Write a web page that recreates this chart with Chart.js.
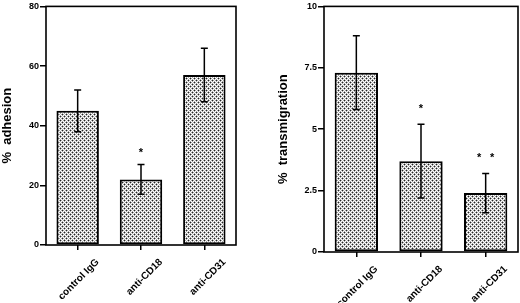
<!DOCTYPE html>
<html>
<head>
<meta charset="utf-8">
<script src="https://cdn.jsdelivr.net/npm/chart.js@4"></script>
<style>
  html, body { margin: 0; padding: 0; background: #fff; }
  .panel { position: absolute; top: 0; width: 260px; height: 303px; }
</style>
</head>
<body>
<div class="panel" style="left:0"><canvas id="adhesionChart" width="260" height="303"></canvas></div>
<div class="panel" style="left:260px"><canvas id="transChart" width="260" height="303"></canvas></div>
<script>
const categories = ['control IgG', 'anti-CD18', 'anti-CD31'];

// left panel: % adhesion (mean, SD)
const adhesionMeans = [45, 22, 57];
const adhesionErrors = [7, 5, 9];
const adhesionStars = [0, 1, 0];
const adhesionTicks = [0, 20, 40, 60, 80];

// right panel: % transmigration (mean, SD)
const transMeans = [7.3, 3.7, 2.4];
const transErrors = [1.5, 1.5, 0.8];
const transStars = [0, 1, 2];
const transTicks = [0, 2.5, 5, 7.5, 10];

const FONT = 'Arial, "Liberation Sans", sans-serif';
Chart.defaults.font.family = FONT;
Chart.defaults.color = '#000';

// stippled fill like the printed figure
function dotPattern() {
    const c = document.createElement('canvas');
    c.width = 4;
    c.height = 4;
    const g = c.getContext('2d');
    g.fillStyle = '#fff';
    g.fillRect(0, 0, 4, 4);
    g.fillStyle = '#aaa';
    [[1, 0], [3, 0], [0, 1], [0, 3], [1, 2], [3, 2], [2, 1], [2, 3]].forEach(p => g.fillRect(p[0], p[1], 1, 1));
    g.fillStyle = '#222';
    g.fillRect(0, 0, 1, 1);
    g.fillRect(2, 2, 1, 1);
    return g.createPattern(c, 'repeat');
}

// error bars, stars, slanted category labels and the box frame
const extras = {
    id: 'extras',
    afterDatasetsDraw(chart, args, opts) {
        const ctx = chart.ctx;
        const y = chart.scales.y;
        const x = chart.scales.x;
        const meta = chart.getDatasetMeta(0);
        ctx.save();
        ctx.strokeStyle = '#000';
        ctx.fillStyle = '#000';
        ctx.lineWidth = 1.5;
        meta.data.forEach((bar, i) => {
            const v = opts.means[i], e = opts.errors[i];
            const top = y.getPixelForValue(v + e);
            const bot = y.getPixelForValue(v - e);
            ctx.beginPath();
            ctx.moveTo(bar.x, top);
            ctx.lineTo(bar.x, bot);
            ctx.moveTo(bar.x - 3.5, top);
            ctx.lineTo(bar.x + 3.5, top);
            ctx.moveTo(bar.x - 3.5, bot);
            ctx.lineTo(bar.x + 3.5, bot);
            ctx.stroke();

            const n = opts.stars[i];
            ctx.font = 'bold 11px ' + FONT;
            ctx.textAlign = 'center';
            ctx.textBaseline = 'middle';
            for (let k = 0; k < n; k++) {
                const sx = bar.x + (k - (n - 1) / 2) * 13;
                ctx.fillText('*', sx, top - opts.starGap);
            }
        });

        // category labels at 45 degrees, centred under the ticks
        ctx.font = 'bold 10px ' + FONT;
        ctx.textAlign = 'right';
        ctx.textBaseline = 'middle';
        categories.forEach((lab, i) => {
            const px = x.getPixelForTick(i);
            ctx.save();
            ctx.translate(px + 20, x.top + 15.5);
            ctx.rotate(-Math.PI / 4);
            ctx.fillText(lab, 0, 0);
            ctx.restore();
        });

        const a = chart.chartArea;
        ctx.lineWidth = 1.6;
        ctx.strokeRect(a.left, a.top, a.right - a.left, a.bottom - a.top);
        ctx.restore();
    }
};

function makeChart(canvasId, means, errors, stars, ticks, title, cfg) {
    const ctx = document.getElementById(canvasId).getContext('2d');
    return new Chart(ctx, {
        type: 'bar',
        data: {
            labels: categories,
            datasets: [{
                data: means,
                backgroundColor: dotPattern(),
                borderColor: '#000',
                borderWidth: 2,
                borderSkipped: false,
                barPercentage: 0.67,
                categoryPercentage: 1
            }]
        },
        options: {
            responsive: false,
            animation: false,
            layout: { padding: { left: 0, right: cfg.padRight, top: cfg.padTop, bottom: 0 } },
            plugins: {
                legend: { display: false },
                tooltip: { enabled: false },
                extras: { means: means, errors: errors, stars: stars, starGap: cfg.starGap }
            },
            scales: {
                x: {
                    offset: true,
                    grid: { display: true, offset: false, drawOnChartArea: false, drawTicks: true, tickLength: 5, color: '#000', lineWidth: 1.5 },
                    border: { display: false },
                    ticks: { display: false },
                    afterFit: s => { s.height = cfg.xHeight; }
                },
                y: {
                    min: ticks[0],
                    max: ticks[ticks.length - 1],
                    afterBuildTicks: s => { s.ticks = ticks.map(v => ({ value: v })); },
                    grid: { display: true, drawOnChartArea: false, drawTicks: true, tickLength: 6, color: '#000', lineWidth: 1.5 },
                    border: { display: false },
                    ticks: {
                        padding: 1,
                        font: { size: 9, weight: 'bold' },
                        color: '#000',
                        callback: v => String(v)
                    },
                    title: {
                        display: true,
                        text: title,
                        font: { size: 13, weight: 'bold' },
                        color: '#000',
                        padding: { top: cfg.titlePad, bottom: 0 }
                    },
                    afterFit: s => { s.width = cfg.yWidth; }
                }
            }
        },
        plugins: [extras]
    });
}

makeChart('adhesionChart', adhesionMeans, adhesionErrors, adhesionStars, adhesionTicks, '%  adhesion',
    { yWidth: 46, xHeight: 58, padRight: 24, padTop: 4, starGap: 12, titlePad: 0 });
makeChart('transChart', transMeans, transErrors, transStars, transTicks, '%  transmigration',
    { yWidth: 64, xHeight: 51, padRight: 2, padTop: 5, starGap: 15, titlePad: 16 });
</script>
</body>
</html>
